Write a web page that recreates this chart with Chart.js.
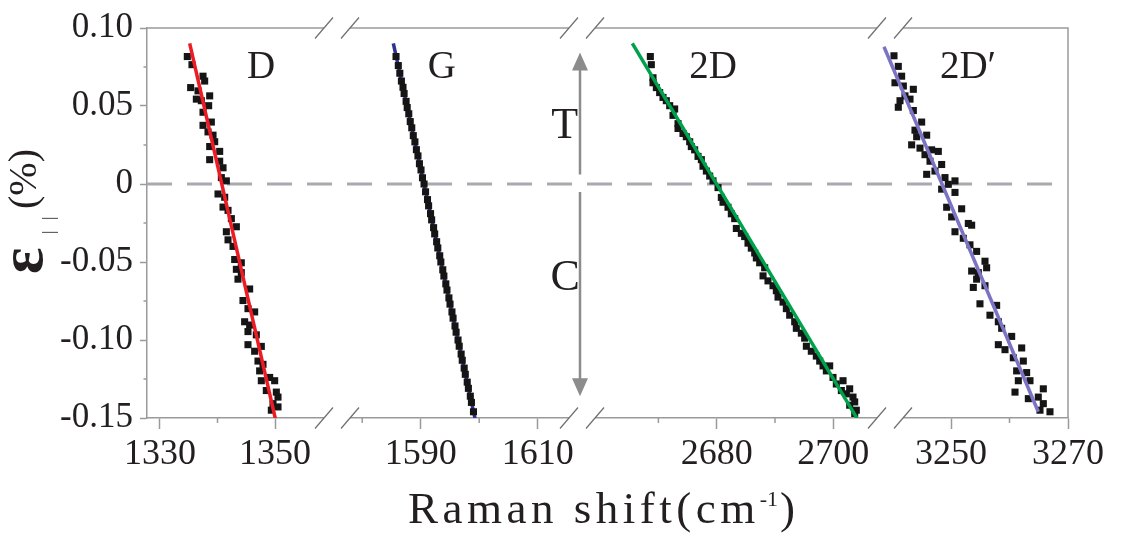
<!DOCTYPE html>
<html>
<head>
<meta charset="utf-8">
<script src="https://cdn.jsdelivr.net/npm/chart.js@4.4.0/dist/chart.umd.min.js"></script>
<style>
html, body { margin: 0; padding: 0; background: #fff; }
#wrap { width: 1135px; height: 534px; }
</style>
</head>
<body>
<div id="wrap"><canvas id="myChart"></canvas></div>
<script>
// measured points, Raman shift (cm-1) vs strain (%)
var dX = [1334.75, 1335.56, 1337.48, 1337.77, 1335.33, 1336.61, 1338.64, 1336.32, 1337.19, 1338.46, 1337.48, 1338.93, 1337.48, 1338.35, 1339.22, 1339.51, 1338.64, 1340.38, 1338.64, 1340.38, 1340.96, 1340.67, 1341.54, 1340.09, 1341.25, 1340.96, 1341.83, 1342.41, 1341.54, 1343.28, 1341.83, 1342.70, 1342.99, 1344.14, 1343.28, 1344.14, 1343.56, 1345.59, 1344.43, 1345.30, 1346.46, 1344.72, 1345.59, 1345.30, 1346.75, 1345.30, 1347.62, 1346.46, 1347.04, 1347.91, 1347.33, 1349.07, 1347.62, 1349.94, 1348.49, 1350.23, 1350.52, 1349.65, 1350.52, 1349.36];
var dY = [0.0817, 0.0765, 0.0691, 0.0660, 0.0618, 0.0597, 0.0565, 0.0544, 0.0534, 0.0502, 0.0460, 0.0397, 0.0376, 0.0334, 0.0313, 0.0271, 0.0240, 0.0209, 0.0156, 0.0146, 0.0104, 0.0041, 0.0020, -0.0064, -0.0085, -0.0148, -0.0169, -0.0222, -0.0306, -0.0274, -0.0358, -0.0400, -0.0484, -0.0505, -0.0547, -0.0568, -0.0610, -0.0673, -0.0747, -0.0799, -0.0820, -0.0883, -0.0904, -0.0946, -0.0967, -0.1030, -0.1041, -0.1072, -0.1135, -0.1156, -0.1198, -0.1240, -0.1261, -0.1261, -0.1324, -0.1334, -0.1366, -0.1408, -0.1429, -0.1450];

var gX = [1585.78, 1586.17, 1586.43, 1586.70, 1586.97, 1587.16, 1587.50, 1587.69, 1587.96, 1588.21, 1588.47, 1588.73, 1589.01, 1589.26, 1589.53, 1589.78, 1590.05, 1590.30, 1590.57, 1590.83, 1591.16, 1591.35, 1591.68, 1591.87, 1592.20, 1592.39, 1592.72, 1592.92, 1593.25, 1593.44, 1593.77, 1593.96, 1594.29, 1594.49, 1594.82, 1595.01, 1595.34, 1595.53, 1595.86, 1596.05, 1596.38, 1596.58, 1596.91, 1597.10, 1597.43, 1597.62, 1597.95, 1598.15, 1598.48, 1598.67, 1599.02];
var gY = [0.0817, 0.0759, 0.071, 0.066, 0.062, 0.058, 0.053, 0.049, 0.045, 0.040, 0.036, 0.031, 0.027, 0.022, 0.018, 0.013, 0.009, 0.004, 0.000, -0.005, -0.010, -0.014, -0.019, -0.023, -0.028, -0.032, -0.037, -0.041, -0.046, -0.050, -0.055, -0.059, -0.064, -0.068, -0.073, -0.077, -0.082, -0.086, -0.091, -0.095, -0.100, -0.104, -0.109, -0.113, -0.118, -0.122, -0.127, -0.131, -0.136, -0.140, -0.146];

var d2X = [2668.62, 2668.79, 2669.08, 2669.08, 2669.65, 2670.22, 2670.79, 2671.36, 2671.94, 2672.79, 2672.51, 2673.37, 2673.37, 2674.22, 2674.79, 2675.37, 2675.65, 2676.22, 2676.80, 2677.37, 2677.65, 2678.23, 2678.80, 2679.37, 2680.23, 2680.80, 2681.08, 2681.94, 2682.51, 2683.09, 2683.37, 2684.23, 2684.80, 2685.37, 2685.94, 2686.52, 2686.80, 2687.37, 2688.23, 2687.95, 2688.80, 2689.66, 2690.23, 2690.52, 2691.38, 2691.95, 2692.52, 2693.38, 2693.66, 2694.52, 2695.09, 2695.38, 2696.23, 2697.09, 2697.67, 2698.24, 2698.81, 2699.38, 2699.95, 2700.52, 2701.67, 2701.38, 2702.24, 2702.81, 2703.38, 2703.67, 2702.81, 2703.95, 2703.67];
var d2Y = [0.0817, 0.0765, 0.0681, 0.0649, 0.0618, 0.0586, 0.0555, 0.0534, 0.0502, 0.0481, 0.0440, 0.0387, 0.0356, 0.0324, 0.0303, 0.0271, 0.0240, 0.0219, 0.0177, 0.0156, 0.0114, 0.0083, 0.0051, 0.0020, -0.0023, -0.0086, -0.0117, -0.0149, -0.0191, -0.0222, -0.0285, -0.0316, -0.0337, -0.0379, -0.0411, -0.0442, -0.0474, -0.0505, -0.0537, -0.0589, -0.0621, -0.0652, -0.0684, -0.0725, -0.0757, -0.0799, -0.0841, -0.0883, -0.0925, -0.0956, -0.0988, -0.1040, -0.1072, -0.1103, -0.1135, -0.1166, -0.1198, -0.1166, -0.1240, -0.1282, -0.1261, -0.1324, -0.1345, -0.1313, -0.1366, -0.1397, -0.1418, -0.1450, -0.1471];

var dpX = [3240.25, 3240.99, 3241.56, 3240.42, 3241.85, 3243.56, 3242.13, 3241.28, 3242.99, 3240.99, 3243.56, 3244.98, 3243.84, 3245.84, 3244.13, 3243.27, 3244.70, 3246.69, 3245.55, 3247.83, 3246.41, 3248.40, 3245.84, 3247.26, 3248.97, 3249.54, 3250.68, 3248.40, 3250.68, 3249.26, 3251.82, 3250.11, 3252.96, 3250.68, 3253.53, 3252.10, 3253.24, 3254.38, 3255.81, 3253.53, 3254.67, 3256.09, 3254.38, 3253.81, 3255.81, 3254.95, 3257.80, 3256.66, 3258.09, 3258.66, 3258.09, 3260.37, 3259.23, 3262.08, 3260.65, 3262.36, 3261.22, 3262.93, 3261.51, 3263.50, 3260.94, 3265.78, 3263.22, 3264.92, 3265.78, 3265.21, 3266.92];
var dpY = [0.0822, 0.0754, 0.0691, 0.0649, 0.0628, 0.0607, 0.0565, 0.0534, 0.0544, 0.0492, 0.0471, 0.0397, 0.0345, 0.0313, 0.0303, 0.0251, 0.0230, 0.0219, 0.0188, 0.0209, 0.0146, 0.0125, 0.0062, 0.0083, 0.0041, -0.0002, 0.0020, -0.0033, -0.0054, -0.0149, -0.0159, -0.0211, -0.0253, -0.0306, -0.0264, -0.0348, -0.0390, -0.0432, -0.0495, -0.0558, -0.0568, -0.0537, -0.0610, -0.0663, -0.0652, -0.0768, -0.0778, -0.0841, -0.0883, -0.0925, -0.1030, -0.0977, -0.1062, -0.1051, -0.1114, -0.1135, -0.1198, -0.1209, -0.1261, -0.1261, -0.1334, -0.1313, -0.1376, -0.1366, -0.1408, -0.1450, -0.1460];

// linear fits (end points)
var dFitX = [1335.16, 1350.05], dFitY = [0.0901, -0.1502];
var gFitX = [1585.32, 1599.28], gFitY = [0.0901, -0.1502];
var d2FitX = [2665.53, 2704.07], d2FitY = [0.0901, -0.1502];
var dpFitX = [3238.54, 3264.92], dpFitY = [0.0880, -0.1460];

var bandNames = ['D', 'G', '2D', '2D\u2032'];
var xTicks = [1330, 1350, 1590, 1610, 2680, 2700, 3250, 3270];
var xMinor = [1340, 1580, 1600, 2670, 2690, 3260];
var yMinor = [0.075, 0.025, -0.025, -0.075, -0.125];

// broken x axis: each piece of real wavenumbers is laid onto a slice of one linear scale
var segLo = [1327.74, 1575.69, 2656.90, 3237.86];
var segHi = [1360.78, 1617.57, 2708.01, 3270];
var segFrom = [0, 190, 435, 733];
var segTo = [190, 435, 733, 921];
var breaks = [190, 435, 743];

function toV(x) {
  for (var i = 0; i < segLo.length; i++) {
    if (x >= segLo[i] - 0.001 && x <= segHi[i] + 0.001)
      return segFrom[i] + (x - segLo[i]) / (segHi[i] - segLo[i]) * (segTo[i] - segFrom[i]);
  }
  return null;
}
function pts(xs, ys) {
  var out = [];
  for (var i = 0; i < Math.min(xs.length, ys.length); i++) out.push({x: toV(xs[i]), y: ys[i]});
  return out;
}

var textColor = '#231f20';
var axisColor = '#9a9a9a';
var serif = "'Liberation Serif', serif";

// band labels + T / C, in data units
var notes = [
  {t: bandNames[0], x: 1347.6, y: 0.068, size: 39},
  {t: bandNames[1], x: 1593.6, y: 0.068, size: 39},
  {t: bandNames[2], x: 2679.4, y: 0.068, size: 39},
  {t: bandNames[3], x: 3252.9, y: 0.068, size: 39},
  {t: 'T', x: 1614.6, y: 0.0295, size: 44},
  {t: 'C', x: 1614.7, y: -0.0681, size: 44}
];

var extras = {
  id: 'extras',
  beforeDatasetsDraw: function(chart) {
    var ctx = chart.ctx, a = chart.chartArea, ys = chart.scales.y;
    var y0 = ys.getPixelForValue(0);
    ctx.save();
    ctx.strokeStyle = '#a7a9ac';
    ctx.lineWidth = 3;
    ctx.setLineDash([25, 15]);
    ctx.beginPath();
    ctx.moveTo(a.left, y0);
    ctx.lineTo(a.right - 11, y0);
    ctx.stroke();
    ctx.restore();
  },
  afterDraw: function(chart) {
    var ctx = chart.ctx, a = chart.chartArea, xs = chart.scales.x, ys = chart.scales.y;
    ctx.save();

    // top and right frame
    ctx.strokeStyle = axisColor;
    ctx.lineWidth = 1.5;
    ctx.beginPath();
    ctx.moveTo(a.left, a.top); ctx.lineTo(a.right, a.top); ctx.lineTo(a.right, a.bottom);
    ctx.stroke();

    // axis breaks
    breaks.forEach(function(b) {
      var c = xs.getPixelForValue(b);
      [a.top, a.bottom].forEach(function(yy) {
        ctx.fillStyle = '#fff';
        ctx.fillRect(c - 13, yy - 2, 26, 4);
        ctx.strokeStyle = '#6d6e71';
        ctx.lineWidth = 1.2;
        [c - 13, c + 13].forEach(function(s) {
          ctx.beginPath();
          ctx.moveTo(s - 9, yy + 10.5);
          ctx.lineTo(s + 9, yy - 10.5);
          ctx.stroke();
        });
      });
    });

    // minor ticks
    ctx.strokeStyle = axisColor;
    ctx.lineWidth = 1.5;
    xMinor.forEach(function(v) {
      var px = xs.getPixelForValue(toV(v));
      ctx.beginPath(); ctx.moveTo(px, a.bottom); ctx.lineTo(px, a.bottom + 5); ctx.stroke();
    });
    yMinor.forEach(function(v) {
      var py = ys.getPixelForValue(v);
      ctx.beginPath(); ctx.moveTo(a.left, py); ctx.lineTo(a.left - 3.5, py); ctx.stroke();
    });

    // T / C arrow
    var ax = xs.getPixelForValue(breaks[1]) - 2;
    var yTip = ys.getPixelForValue(0.0843), yGap1 = ys.getPixelForValue(0.0061);
    var yGap2 = ys.getPixelForValue(-0.0052), yTip2 = ys.getPixelForValue(-0.1360);
    ctx.strokeStyle = '#8c8c8c';
    ctx.fillStyle = '#8c8c8c';
    ctx.lineWidth = 2.5;
    ctx.beginPath();
    ctx.moveTo(ax, yTip + 15); ctx.lineTo(ax, yGap1);
    ctx.moveTo(ax, yGap2); ctx.lineTo(ax, yTip2 - 15);
    ctx.stroke();
    ctx.beginPath();
    ctx.moveTo(ax, yTip); ctx.lineTo(ax - 8, yTip + 18); ctx.lineTo(ax + 8, yTip + 18); ctx.closePath();
    ctx.moveTo(ax, yTip2); ctx.lineTo(ax - 8, yTip2 - 18); ctx.lineTo(ax + 8, yTip2 - 18); ctx.closePath();
    ctx.fill();

    // labels
    ctx.fillStyle = textColor;
    ctx.textAlign = 'center';
    ctx.textBaseline = 'alphabetic';
    notes.forEach(function(n) {
      ctx.font = n.size + 'px ' + serif;
      ctx.fillText(n.t, xs.getPixelForValue(toV(n.x)), ys.getPixelForValue(n.y));
    });

    // x title with superscript
    ctx.textAlign = 'left';
    ctx.font = '45px ' + serif;
    ctx.letterSpacing = '4.5px';
    var main = 'Raman shift(cm';
    var x0 = 408, base = 523;
    ctx.fillText(main, x0, base);
    var w = ctx.measureText(main).width;
    ctx.font = '22px ' + serif;
    ctx.letterSpacing = '0px';
    ctx.fillText('-1', x0 + w, base - 17);
    var w2 = ctx.measureText('-1').width;
    ctx.font = '45px ' + serif;
    ctx.fillText(')', x0 + w + w2 + 2, base);

    // y title
    ctx.save();
    ctx.translate(42, 274); ctx.rotate(-Math.PI / 2);
    ctx.font = 'bold 62px ' + serif;
    ctx.fillText('\u03b5', 0, 0);
    ctx.restore();
    ctx.font = '17px ' + serif;
    [234, 220].forEach(function(yy) {
      ctx.save();
      ctx.translate(54, yy); ctx.rotate(-Math.PI / 2);
      ctx.fillText('|', 0, 0);
      ctx.restore();
    });
    ctx.save();
    ctx.translate(36, 209); ctx.rotate(-Math.PI / 2);
    ctx.font = '40px ' + serif;
    ctx.fillText('(%)', 0, 0);
    ctx.restore();

    ctx.restore();
  }
};

function pointSet(data) {
  return {
    type: 'scatter', data: data, order: 2,
    pointStyle: 'rect', pointRadius: 5, pointBackgroundColor: '#151515', pointBorderWidth: 0
  };
}
function fitSet(data, color, order) {
  return {
    type: 'line', data: data, order: order,
    borderColor: color, borderWidth: 3.5, pointRadius: 0, fill: false, tension: 0
  };
}

var ctx = document.getElementById('myChart').getContext('2d');
var myChart = new Chart(ctx, {
  type: 'scatter',
  data: {
    datasets: [
      pointSet(pts(dX, dY)),
      pointSet(pts(gX, gY)),
      pointSet(pts(d2X, d2Y)),
      pointSet(pts(dpX, dpY)),
      fitSet(pts(dFitX, dFitY), '#ed1c24', 1),
      fitSet(pts(gFitX, gFitY), '#2e3192', 3),
      fitSet(pts(d2FitX, d2FitY), '#00a14b', 1),
      fitSet(pts(dpFitX, dpFitY), '#7b74c4', 1)
    ]
  },
  options: {
    responsive: true,
    maintainAspectRatio: false,
    animation: false,
    layout: { padding: { top: 21, right: 67, left: 0, bottom: 0 } },
    plugins: { legend: { display: false }, tooltip: { enabled: false } },
    scales: {
      x: {
        type: 'linear', min: 0, max: 921,
        afterFit: function(s) { s.height = 116; },
        afterBuildTicks: function(s) { s.ticks = xTicks.map(function(v) { return {value: toV(v)}; }); },
        grid: { drawOnChartArea: false, drawTicks: true, tickLength: 11, tickColor: axisColor, tickWidth: 1.5 },
        border: { display: true, color: axisColor, width: 1.5 },
        ticks: {
          autoSkip: false, maxRotation: 0, padding: 4, color: textColor,
          font: { family: serif, size: 36 },
          callback: function(v, i) { return String(xTicks[i]); }
        }
      },
      y: {
        min: -0.15, max: 0.10,
        afterFit: function(s) { s.width = 147; },
        grid: { drawOnChartArea: false, drawTicks: true, tickLength: 7, tickColor: axisColor, tickWidth: 1.5 },
        border: { display: true, color: axisColor, width: 1.5 },
        ticks: {
          stepSize: 0.05, padding: 7, color: textColor,
          font: { family: serif, size: 35 },
          callback: function(v) { var r = Math.round(v * 100) / 100; return r === 0 ? '0' : r.toFixed(2); }
        }
      }
    }
  },
  plugins: [extras]
});
</script>
</body>
</html>
